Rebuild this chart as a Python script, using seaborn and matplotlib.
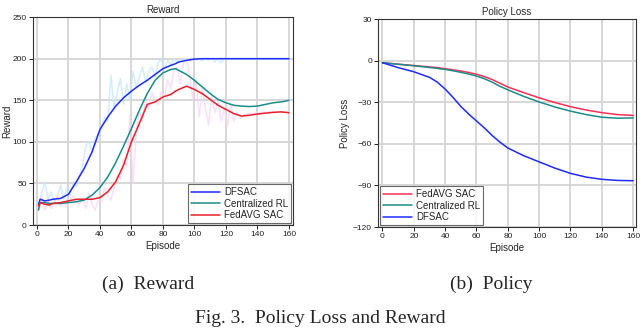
import numpy as np
import pandas as pd
import seaborn as sns
import matplotlib.pyplot as plt

# ---- Reward panel (smoothed curves) ----
ep_r = [1, 2, 5, 8, 10, 15, 20, 25, 30, 35, 40, 45, 50, 55, 60, 65, 70, 75, 80, 85,
        88, 90, 95, 100, 105, 110, 115, 120, 125, 130, 135, 140, 145, 150, 155, 158, 160]
dfsac_r = [25, 31, 29, 30, 31, 32, 37, 52, 68, 88, 115, 130, 143, 153, 161, 168, 174, 181, 188, 192,
           194, 196, 198, 199.5, 200, 200, 200, 200, 200, 200, 200, 200, 200, 200, 200, 200, 200]
central_r = [18, 27, 27, 26, 26, 26, 27, 28, 30, 36, 45, 58, 75, 95, 116, 138, 158, 174, 183, 187,
             188, 186, 181, 174, 166, 158, 151, 147, 144, 143, 142.5, 143, 145, 147, 148, 149, 150]
fedavg_r = [23, 27, 25, 24, 26, 27, 29, 31, 31, 31, 33, 40, 52, 72, 100, 122, 145, 148, 154, 157,
            161, 163, 167, 163, 158, 151, 144, 139, 134, 131, 132, 133.5, 134.5, 135.5, 136, 135.5, 135]

# raw (unsmoothed) episodes, every 2nd episode
ep_raw = list(range(1, 161, 2))
dfsac_raw = [22, 38, 52, 30, 40, 28, 35, 48, 30, 45, 36, 50, 46, 60, 72, 95, 100, 88, 105, 110,
             118, 130, 125, 180, 140, 160, 176, 145, 170, 150, 185, 165, 178, 190, 172, 185, 190, 178, 195, 200,
             188, 198, 193, 200, 196, 200, 198, 200, 197, 200, 198, 200, 197, 200, 198, 200, 196, 200, 195, 200,
             200, 200, 200, 200, 200, 200, 200, 200, 200, 200, 200, 200, 200, 200, 200, 200, 200, 200, 200, 200]
fedavg_raw = [20, 35, 18, 30, 20, 25, 35, 22, 28, 20, 30, 35, 28, 25, 32, 20, 38, 25, 18, 30,
              28, 45, 35, 30, 45, 60, 55, 80, 70, 130, 50, 110, 135, 125, 150, 140, 160, 150, 145, 160,
              155, 175, 165, 185, 190, 170, 195, 200, 180, 150, 175, 130, 165, 140, 120, 155, 135, 150, 125, 140,
              120, 145, 125, 135, 128, 132, 133, 134, 134, 135, 135, 136, 135, 136, 136, 135, 136, 136, 135, 136]

# ---- Policy loss panel ----
ep_p = [0, 10, 20, 30, 35, 40, 45, 50, 55, 60, 65, 70, 75, 80, 90, 100, 110, 120, 130, 140, 150, 160]
fedavg_p = [-1.5, -2.5, -3.5, -4.5, -5.0, -5.8, -6.6, -7.5, -8.5, -9.8, -11.5, -13.6, -16.3, -19.0,
            -23.0, -26.8, -30.2, -33.2, -35.6, -37.5, -38.9, -39.5]
central_p = [-1.5, -2.6, -3.7, -4.9, -5.6, -6.3, -7.3, -8.4, -9.6, -11.1, -13.0, -15.5, -18.5, -21.0,
             -25.7, -29.8, -33.4, -36.4, -38.9, -40.8, -41.5, -41.3]
dfsac_p = [-1.5, -5.0, -8.0, -12.0, -15.5, -20.5, -26.5, -33.0, -38.5, -43.5, -48.5, -54.0, -58.8, -63.0,
           -68.5, -73.0, -77.5, -81.3, -84.0, -85.6, -86.4, -86.6]

BLUE = "#1f2bff"
TEAL = "#1a8c8c"
RED = "#e8202a"
RED2 = "#ff2f55"

sns.set_theme(style="whitegrid", rc={
    "grid.color": "#d4d4d4", "grid.linewidth": 1.3,
    "axes.edgecolor": "#333333", "axes.linewidth": 0.8,
    "xtick.bottom": True, "ytick.left": True,
    "xtick.direction": "out", "ytick.direction": "out",
    "xtick.major.size": 3, "ytick.major.size": 3,
    "xtick.major.width": 0.7, "ytick.major.width": 0.7,
    "xtick.major.pad": 1.5, "ytick.major.pad": 1.5,
    "xtick.color": "#222222", "ytick.color": "#222222",
})
plt.rcParams["font.family"] = ["Liberation Sans", "DejaVu Sans"]

fig = plt.figure(figsize=(6.4, 3.29), dpi=100)
ax1 = fig.add_axes([0.0516, 0.316, 0.406, 0.632])
ax2 = fig.add_axes([0.591, 0.310, 0.402, 0.632])

# reward
sns.lineplot(x=ep_raw, y=dfsac_raw, ax=ax1, color="#c4e8ff", lw=1.1, alpha=0.75)
sns.lineplot(x=ep_raw, y=fedavg_raw, ax=ax1, color="#f8d6f6", lw=1.1, alpha=0.75)
sns.lineplot(x=ep_r, y=dfsac_r, ax=ax1, color=BLUE, lw=1.1, label="DFSAC")
sns.lineplot(x=ep_r, y=central_r, ax=ax1, color=TEAL, lw=1.1, label="Centralized RL")
sns.lineplot(x=ep_r, y=fedavg_r, ax=ax1, color=RED, lw=1.1, label="FedAVG SAC")
ax1.set_xlim(-2.5, 162.5)
ax1.set_ylim(0, 250)
ax1.set_xticks(np.arange(0, 161, 20))
ax1.set_yticks(np.arange(0, 251, 50))
ax1.set_title("Reward", fontsize=7, pad=3)
ax1.set_xlabel("Episode", fontsize=7, labelpad=2)
ax1.set_ylabel("Reward", fontsize=7)
ax1.yaxis.set_label_coords(-0.08, 0.5)

# policy loss
sns.lineplot(x=ep_p, y=fedavg_p, ax=ax2, color=RED2, lw=1.1, label="FedAVG SAC")
sns.lineplot(x=ep_p, y=central_p, ax=ax2, color=TEAL, lw=1.1, label="Centralized RL")
sns.lineplot(x=ep_p, y=dfsac_p, ax=ax2, color=BLUE, lw=1.1, label="DFSAC")
ax2.set_xlim(-2.7, 161.5)
ax2.set_ylim(-120, 30)
ax2.set_xticks(np.arange(0, 161, 20))
ax2.set_yticks(np.arange(-120, 31, 30))
ax2.set_title("Policy Loss", fontsize=7, pad=3)
ax2.set_xlabel("Episode", fontsize=7, labelpad=2)
ax2.set_ylabel("Policy Loss", fontsize=7, labelpad=2)

for ax, loc in [(ax1, "lower right"), (ax2, "lower left")]:
    ax.tick_params(labelsize=6)
    leg = ax.legend(loc=loc, fontsize=7, frameon=True, fancybox=False,
                    borderaxespad=0.2, handlelength=3.0, handletextpad=0.4,
                    labelspacing=0.15, borderpad=0.3)
    leg.get_frame().set_edgecolor("#444444")
    leg.get_frame().set_linewidth(0.8)
    for spine in ax.spines.values():
        spine.set_visible(True)

serif = ["Liberation Serif", "DejaVu Serif"]
fig.text(0.231, 0.137, "(a)  Reward", ha="center", va="center", fontsize=14, family=serif)
fig.text(0.768, 0.137, "(b)  Policy", ha="center", va="center", fontsize=14, family=serif)
fig.text(0.5, 0.006, "Fig. 3.  Policy Loss and Reward", ha="center", va="bottom", fontsize=14,
         family=serif)

fig.savefig("out.png", dpi=100)
